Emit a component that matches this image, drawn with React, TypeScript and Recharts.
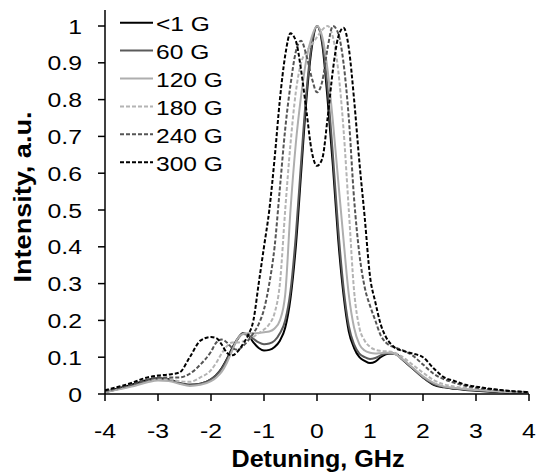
import React from 'react';
import { LineChart, Line, XAxis, YAxis, Legend } from 'recharts';

const FONT = '"Liberation Sans", Arial, Helvetica, sans-serif';

// Detuning grid (GHz)
const detuning = [
  -4, -3.5, -3.2, -3.0, -2.8, -2.6, -2.4, -2.2,
  -2.0, -1.9, -1.8, -1.7, -1.6, -1.5, -1.4, -1.3, -1.2, -1.1, -1.0,
  -0.9, -0.8, -0.7, -0.6, -0.5, -0.4, -0.3, -0.2, -0.1,
  0, 0.1, 0.2, 0.3, 0.4, 0.5, 0.6, 0.7, 0.8, 0.9,
  1.0, 1.1, 1.2, 1.3, 1.4, 1.5, 1.6,
  1.8, 2.0, 2.2, 2.4, 2.6, 2.8, 3.0, 3.5, 4.0,
];

const field1G = [
  0.005, 0.025, 0.038, 0.043, 0.04, 0.03, 0.025, 0.028,
  0.04, 0.052, 0.07, 0.095, 0.125, 0.15, 0.165, 0.16, 0.14, 0.125, 0.118,
  0.12, 0.128, 0.145, 0.18, 0.26, 0.4, 0.6, 0.8, 0.94,
  1.0, 0.95, 0.8, 0.62, 0.42, 0.27, 0.17, 0.125, 0.1, 0.09,
  0.084, 0.088, 0.1, 0.108, 0.11, 0.108, 0.095,
  0.07, 0.045, 0.025, 0.018, 0.014, 0.011, 0.009, 0.005, 0.003,
];

const field60G = [
  0.005, 0.022, 0.035, 0.04, 0.038, 0.03, 0.025, 0.028,
  0.04, 0.052, 0.068, 0.093, 0.122, 0.148, 0.163, 0.16, 0.15, 0.14, 0.135,
  0.137, 0.145, 0.165, 0.2, 0.28, 0.43, 0.63, 0.82, 0.95,
  1.0, 0.96, 0.83, 0.65, 0.45, 0.29, 0.185, 0.135, 0.11, 0.1,
  0.095, 0.098, 0.105, 0.11, 0.11, 0.107, 0.095,
  0.07, 0.045, 0.027, 0.019, 0.015, 0.012, 0.01, 0.006, 0.003,
];

const field120G = [
  0.005, 0.02, 0.032, 0.037, 0.035, 0.028, 0.022, 0.025,
  0.035, 0.045, 0.06, 0.085, 0.118, 0.15, 0.163, 0.165, 0.165, 0.166, 0.168,
  0.17, 0.178, 0.2, 0.27, 0.5, 0.68, 0.81, 0.91, 0.97,
  1.0, 0.97, 0.88, 0.74, 0.58, 0.42, 0.27, 0.18, 0.135, 0.118,
  0.112, 0.11, 0.111, 0.112, 0.112, 0.106, 0.096,
  0.072, 0.048, 0.03, 0.02, 0.016, 0.013, 0.011, 0.006, 0.003,
];

const field180G = [
  0.008, 0.022, 0.035, 0.04, 0.04, 0.035, 0.033, 0.045,
  0.065, 0.085, 0.11, 0.13, 0.14, 0.14, 0.143, 0.148, 0.155, 0.165, 0.175,
  0.19, 0.22, 0.3, 0.5, 0.68, 0.82, 0.9, 0.93, 0.95,
  0.97, 0.99, 1.0, 0.97, 0.88, 0.72, 0.5, 0.28, 0.18, 0.145,
  0.128, 0.12, 0.117, 0.116, 0.115, 0.11, 0.102,
  0.08, 0.058, 0.038, 0.026, 0.02, 0.016, 0.013, 0.007, 0.004,
];

const field240G = [
  0.008, 0.025, 0.038, 0.045, 0.045, 0.045, 0.055, 0.08,
  0.115, 0.14, 0.148, 0.14, 0.125, 0.12, 0.13, 0.145, 0.165, 0.19, 0.23,
  0.3, 0.4, 0.56, 0.72, 0.84, 0.93, 0.96, 0.92, 0.86,
  0.82, 0.85, 0.94, 1.0, 0.98, 0.9, 0.75, 0.53, 0.38, 0.29,
  0.24, 0.2, 0.16, 0.14, 0.13, 0.125, 0.12,
  0.105, 0.08, 0.055, 0.04, 0.03, 0.022, 0.017, 0.01, 0.005,
];

const field300G = [
  0.01, 0.03, 0.045, 0.05, 0.053, 0.058, 0.1, 0.145,
  0.155, 0.152, 0.135, 0.112, 0.105, 0.115, 0.135, 0.16, 0.2, 0.3, 0.4,
  0.5, 0.64, 0.8, 0.92, 0.98, 0.96, 0.88, 0.77, 0.66,
  0.62, 0.64, 0.75, 0.88, 0.97, 0.995, 0.94, 0.8, 0.63, 0.48,
  0.32, 0.25, 0.19, 0.155, 0.135, 0.123, 0.118,
  0.11, 0.1, 0.07, 0.045, 0.035, 0.025, 0.02, 0.01, 0.005,
];

const seriesNames = ['<1 G', '60 G', '120 G', '180 G', '240 G', '300 G'];
const xTicks = [-4, -3, -2, -1, 0, 1, 2, 3, 4];
const yTicks = [0, 0.1, 0.2, 0.3, 0.4, 0.5, 0.6, 0.7, 0.8, 0.9, 1];

const series = [
  { key: 's1', name: seriesNames[0], values: field1G, color: '#000000', dash: undefined as string | undefined },
  { key: 's60', name: seriesNames[1], values: field60G, color: '#5a5a5a', dash: undefined },
  { key: 's120', name: seriesNames[2], values: field120G, color: '#aeaeae', dash: undefined },
  { key: 's180', name: seriesNames[3], values: field180G, color: '#b4b4b4', dash: '4 2' },
  { key: 's240', name: seriesNames[4], values: field240G, color: '#555555', dash: '4 2' },
  { key: 's300', name: seriesNames[5], values: field300G, color: '#000000', dash: '4 2' },
];

const data = detuning.map((x, i) => {
  const row: Record<string, number> = { x };
  series.forEach((s) => {
    row[s.key] = s.values[i];
  });
  return row;
});

const fmtY = (v: number) => String(Math.round(v * 10) / 10);

const XTick = (props: any) => {
  const { x, y, payload } = props;
  return (
    <g transform={`translate(${x},${y + 35}) scale(1.18,1)`}>
      <text x={0} y={0} textAnchor="middle" fontSize={21} fontFamily={FONT} fill="#000">
        {payload.value}
      </text>
    </g>
  );
};

const YTick = (props: any) => {
  const { x, y, payload } = props;
  return (
    <g transform={`translate(${x - 14},${y + 7.5}) scale(1.18,1)`}>
      <text x={0} y={0} textAnchor="end" fontSize={21} fontFamily={FONT} fill="#000">
        {fmtY(payload.value)}
      </text>
    </g>
  );
};

const LegendBox = () => (
  <svg width={260} height={180} style={{ display: 'block' }}>
    {series.map((s, i) => {
      const cy = 22.7 + i * 27.9;
      return (
        <g key={s.key}>
          <line x1={120} x2={153} y1={cy} y2={cy} stroke={s.color} strokeWidth={2} strokeDasharray={s.dash} />
          <g transform={`translate(156,${cy + 8.5}) scale(1.17,1)`}>
            <text x={0} y={0} fontSize={21} fontFamily={FONT} fill="#000">
              {s.name}
            </text>
          </g>
        </g>
      );
    })}
  </svg>
);

export default function App() {
  return (
    <div style={{ position: 'absolute', left: 0, top: 0, width: 536, height: 473, background: '#fff' }}>
      <LineChart width={536} height={473} data={data} margin={{ top: 10, right: 7, left: 0, bottom: 0 }}>
        <XAxis
          dataKey="x"
          type="number"
          domain={[-4, 4]}
          ticks={xTicks}
          height={79}
          stroke="#000"
          strokeWidth={1.5}
          tickSize={7}
          tick={<XTick />}
          interval={0}
          allowDataOverflow
          label={{
            content: () => (
              <text
                x={318}
                y={467}
                textAnchor="middle"
                fontSize={23}
                fontWeight="bold"
                fontFamily={FONT}
                fill="#000"
                textLength={173}
                lengthAdjust="spacingAndGlyphs"
              >
                Detuning, GHz
              </text>
            ),
          }}
        />
        <YAxis
          type="number"
          domain={[0, 1.0435]}
          ticks={yTicks}
          width={105}
          stroke="#000"
          strokeWidth={1.5}
          tickSize={7}
          tick={<YTick />}
          interval={0}
          allowDataOverflow
          label={{
            content: () => (
              <text
                x={31}
                y={197}
                transform="rotate(-90, 31, 197)"
                textAnchor="middle"
                fontSize={24}
                fontWeight="bold"
                fontFamily={FONT}
                fill="#000"
                textLength={171}
                lengthAdjust="spacingAndGlyphs"
              >
                Intensity, a.u.
              </text>
            ),
          }}
        />
        <Legend
          layout="vertical"
          align="center"
          verticalAlign="middle"
          content={() => <LegendBox />}
          wrapperStyle={{ position: 'absolute', left: 0, top: 0, width: 260, height: 180 }}
        />
        {series.map((s) => (
          <Line
            key={s.key}
            dataKey={s.key}
            name={s.name}
            type="monotone"
            stroke={s.color}
            strokeWidth={2}
            strokeDasharray={s.dash}
            dot={false}
            activeDot={false}
            isAnimationActive={false}
          />
        ))}
      </LineChart>
    </div>
  );
}
